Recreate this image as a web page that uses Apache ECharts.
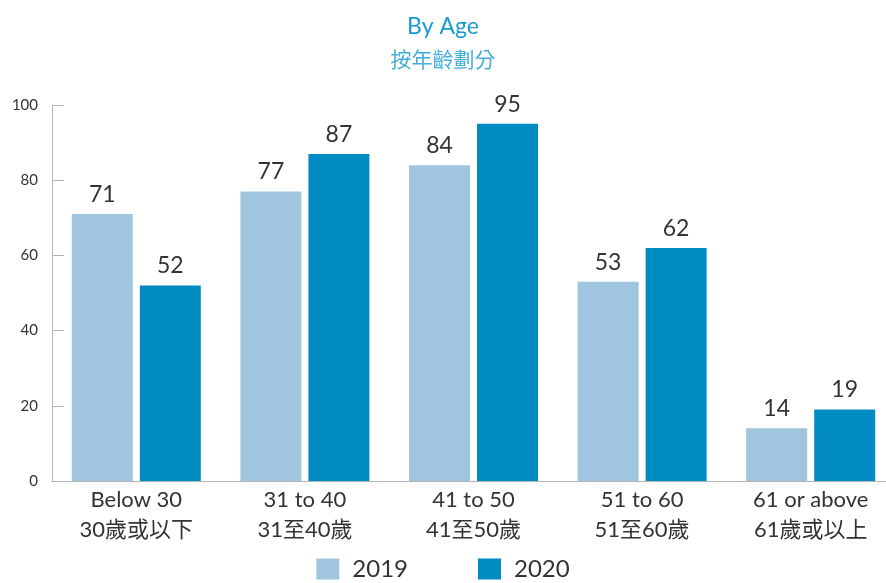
<!DOCTYPE html>
<html>
<head>
<meta charset="utf-8">
<script src="https://cdn.jsdelivr.net/npm/echarts@6/dist/echarts.min.js"></script>
<style>
  html, body { margin: 0; padding: 0; background: #fff; }
  #chart { width: 886px; height: 583px; }
</style>
</head>
<body>
<div id="chart"></div>
<script>
// 按年齡劃分
const categories = ['Below 30\n30歲或以下', '31 to 40\n31至40歲', '41 to 50\n41至50歲', '51 to 60\n51至60歲', '61 or above\n61歲或以上']
const data2019 = [71, 77, 84, 53, 14]
const data2020 = [52, 87, 95, 62, 19]
const yTicks = [0, 20, 40, 60, 80, 100]

const font = 'Lato, "Noto Sans CJK TC", sans-serif'
let myChart = echarts.init(document.getElementById('chart'))
let option = {
  color: ['#9fc5df', '#008cc2'],
  textStyle: { fontFamily: font },
  title: {
    left: 'center',
    top: 10,
    text: 'By Age',
    subtext: '按年齡劃分',
    itemGap: 12,
    textStyle: { color: '#1a9ad2', fontSize: 23, fontWeight: 'normal', fontFamily: font },
    subtextStyle: { color: '#45afdb', fontSize: 21, fontFamily: font }
  },
  legend: {
    bottom: -3,
    left: 'center',
    itemWidth: 23,
    itemHeight: 21,
    itemGap: 70,
    icon: 'rect',
    textStyle: { fontSize: 24, color: '#333', fontFamily: font, padding: [0, 0, 0, 8] },
    data: ['2019', '2020']
  },
  grid: { left: 52, right: -9, top: 105, bottom: 102, outerBoundsMode: 'none', containLabel: false },
  xAxis: {
    type: 'category',
    data: categories,
    axisLine: { lineStyle: { color: '#b5b5b5' } },
    axisTick: { inside: true, length: 9, lineStyle: { color: '#b5b5b5' } },
    axisLabel: { fontSize: 22, color: '#333', lineHeight: 30, margin: 4, interval: 0 }
  },
  yAxis: {
    type: 'value',
    min: yTicks[0],
    max: yTicks[yTicks.length - 1],
    interval: 20,
    splitLine: { show: false },
    axisLine: { show: true, lineStyle: { color: '#b5b5b5' } },
    axisTick: { show: true, inside: true, length: 12, lineStyle: { color: '#b5b5b5' } },
    axisLabel: { fontSize: 15, color: '#333', margin: 14 }
  },
  series: [
    {
      name: '2019',
      type: 'bar',
      barWidth: 61,
      barGap: '11.5%',
      data: data2019,
      label: { show: true, position: 'top', distance: 8, fontSize: 23, color: '#333' }
    },
    {
      name: '2020',
      type: 'bar',
      barWidth: 61,
      barGap: '11.5%',
      data: data2020,
      label: { show: true, position: 'top', distance: 8, fontSize: 23, color: '#333' }
    }
  ]
}
myChart.setOption(option)
</script>
</body>
</html>
